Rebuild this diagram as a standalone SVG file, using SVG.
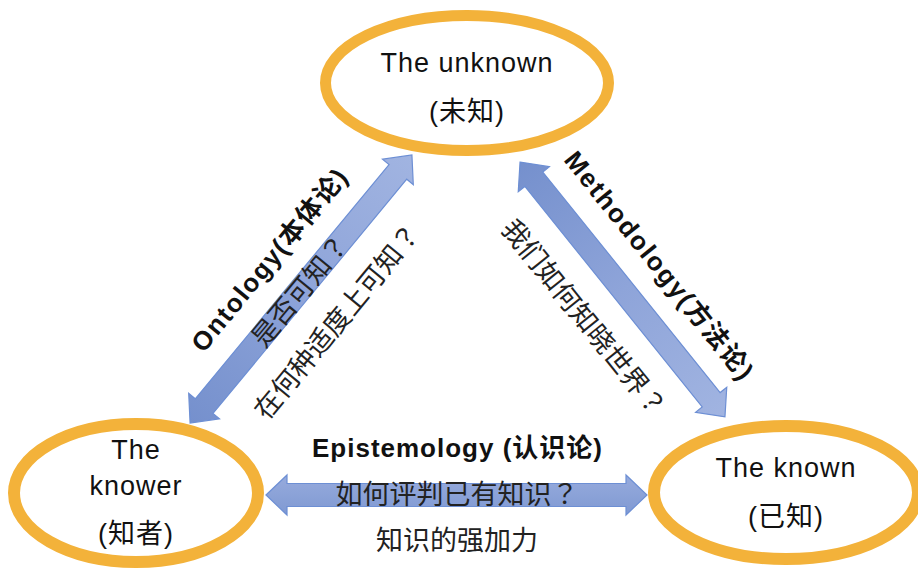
<svg xmlns="http://www.w3.org/2000/svg" width="918" height="570" viewBox="0 0 918 570">
  <defs>
    <linearGradient id="arrowFill" x1="0" y1="0" x2="1" y2="0">
      <stop offset="0" stop-color="#7590cd"/>
      <stop offset="0.5" stop-color="#8ea4d9"/>
      <stop offset="1" stop-color="#a1b4e1"/>
    </linearGradient>
    <linearGradient id="arrowFillH" x1="0" y1="0" x2="0" y2="1">
      <stop offset="0" stop-color="#97abdd"/>
      <stop offset="1" stop-color="#7f99d2"/>
    </linearGradient>
  </defs>
  <style>
    .ring { fill: #ffffff; stroke: #F3B23A; }
    .lbl { font-family: "Liberation Sans", "Noto Sans CJK SC", sans-serif; fill: #111111; text-anchor: middle; }
    .node { font-size: 27px; letter-spacing: 1px; }
    .bold { font-weight: bold; font-size: 26px; }
    .cjk { font-family: "Noto Sans CJK SC", "Liberation Sans", sans-serif; font-size: 27px; fill: #222222; text-anchor: middle; }
    .q { font-family: "Noto Sans CJK TC", "Noto Sans CJK SC", sans-serif; }
    .arrow { stroke: #6d8fd4; stroke-width: 1.2; }
  </style>
  <rect width="918" height="570" fill="#ffffff"/>

  <g id="node-unknown">
    <ellipse class="ring" cx="467" cy="83" rx="141.5" ry="67.5" stroke-width="11"/>
    <text class="lbl node" x="467" y="72" font-size="28">The unknown</text>
    <text class="lbl node" x="467" y="121" letter-spacing="0">(未知)</text>
  </g>

  <g id="node-knower">
    <ellipse class="ring" cx="136" cy="493" rx="122" ry="69" stroke-width="12"/>
    <text class="lbl node" x="136" y="459">The</text>
    <text class="lbl node" x="136" y="495" letter-spacing="1.5">knower</text>
    <text class="lbl node" x="136" y="543" letter-spacing="0">(知者)</text>
  </g>

  <g id="node-known">
    <ellipse class="ring" cx="786" cy="492.5" rx="132" ry="66.5" stroke-width="12"/>
    <text class="lbl node" x="786" y="477">The known</text>
    <text class="lbl node" x="786" y="526" letter-spacing="0">(已知)</text>
  </g>

  <g id="connectors">
    <g id="edge-ontology" transform="translate(301 289) rotate(-50.4)">
      <polygon class="arrow" fill="url(#arrowFill)" points="-174,0 -152,-20 -152,-11.5 152,-11.5 152,-20 174,0 152,20 152,11.5 -152,11.5 -152,20"/>
      <text class="lbl bold" x="2" y="-34" textLength="228" lengthAdjust="spacing">Ontology(本体论)</text>
      <text class="cjk" x="-2" y="10">是否可知<tspan class="q">？</tspan></text>
      <text class="cjk" x="-2" y="58">在何种适度上可知<tspan class="q">？</tspan></text>
    </g>
    <g id="edge-methodology" transform="translate(622.5 289.5) rotate(51.2)">
      <polygon class="arrow" fill="url(#arrowFill)" points="-163.5,0 -141.5,-20 -141.5,-11.5 141.5,-11.5 141.5,-20 163.5,0 141.5,20 141.5,11.5 -141.5,11.5 -141.5,20"/>
      <text class="lbl bold" x="4" y="-34.5" textLength="284" lengthAdjust="spacing">Methodology(方法论)</text>
      <text class="cjk" x="-2" y="57.5">我们如何知晓世界<tspan class="q">？</tspan></text>
    </g>
    <g id="edge-epistemology">
      <polygon class="arrow" fill="url(#arrowFillH)" points="266,495 287,475 287,483.5 626,483.5 626,475 647,495 626,515 626,506.5 287,506.5 287,515"/>
      <text class="lbl bold" x="457" y="457" textLength="290" lengthAdjust="spacing">Epistemology (认识论)</text>
      <text class="cjk" x="457" y="504" font-size="26.5">如何评判已有知识<tspan class="q">？</tspan></text>
      <text class="cjk" x="457" y="550" font-size="26.5">知识的强加力</text>
    </g>
  </g>
</svg>
